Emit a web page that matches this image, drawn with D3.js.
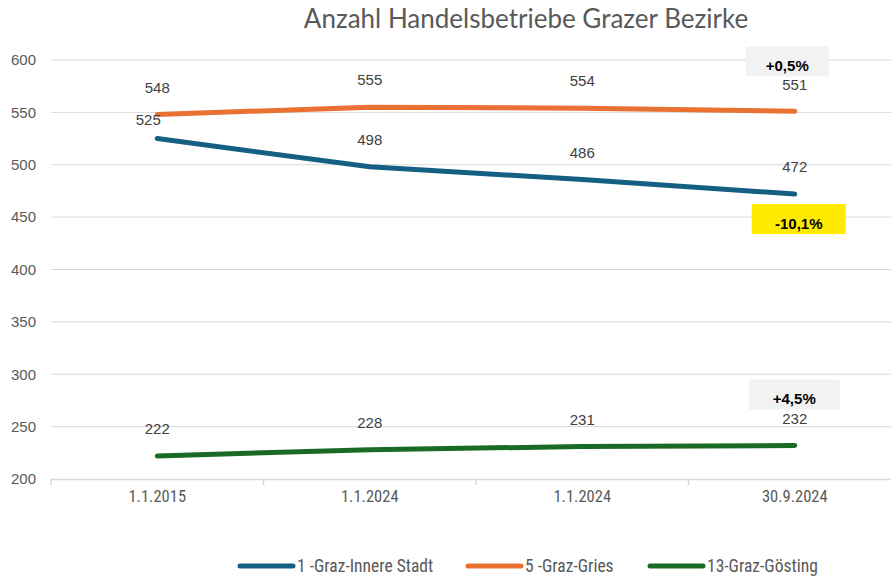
<!DOCTYPE html>
<html><head><meta charset="utf-8">
<script src="https://cdn.jsdelivr.net/npm/d3@7"></script>
<style>body{margin:0;background:#fff}svg{display:block}</style>
</head><body><svg id="c" width="891" height="576"></svg>
<script>
const categories = ["1.1.2015", "1.1.2024", "1.1.2024 ", "30.9.2024"];
const seriesNames = ["1 -Graz-Innere Stadt", "5 -Graz-Gries", "13-Graz-Gösting"];
const innereStadt = [525, 498, 486, 472];
const gries = [548, 555, 554, 551];
const goesting = [222, 228, 231, 232];
const yTicks = [200, 250, 300, 350, 400, 450, 500, 550, 600];
const changeLabels = ["-10,1%", "+0,5%", "+4,5%"];
const title = "Anzahl Handelsbetriebe Grazer Bezirke";

(function () {
const colors = ["#156082", "#E97132", "#196B24"];
const seriesData = [innereStadt, gries, goesting];

const svg = d3.select("#c");
const pLeft = 51, pRight = 901, pTop = 60, pBottom = 479;
const x = d3.scaleBand().domain(categories).range([pLeft, pRight]);
const y = d3.scaleLinear().domain([200, 600]).range([pBottom, pTop]);
const cx = c => x(c) + x.bandwidth() / 2;

svg.append("text").attr("x", 526).attr("y", 28).attr("text-anchor", "middle")
  .attr("font-family", "Lato, 'Open Sans', sans-serif").attr("font-size", 26).attr("fill", "#595959").text(title);

// grid
svg.append("g").selectAll("line").data(yTicks.filter(d => d !== 200)).join("line")
  .attr("x1", pLeft).attr("x2", 891).attr("y1", d => y(d)).attr("y2", d => y(d))
  .attr("stroke", "#d9d9d9").attr("stroke-width", 1);

// y labels
svg.append("g").selectAll("text").data(yTicks).join("text")
  .attr("x", 36).attr("y", d => y(d)).attr("dy", "0.35em").attr("text-anchor", "end")
  .attr("font-family", "'Liberation Sans', Arial, sans-serif").attr("font-size", 15).attr("fill", "#595959").text(d => d);

// x axis
const xa = svg.append("g").attr("transform", `translate(0,${pBottom})`)
  .call(d3.axisBottom(x).tickSize(0).tickFormat(d => d.trim()));
xa.select(".domain").attr("stroke", "#d9d9d9").attr("stroke-width", 1.5);
xa.selectAll("text").attr("font-family", "'Liberation Sans Narrow', 'Roboto Condensed', sans-serif")
  .attr("font-size", 16.5).attr("fill", "#595959").attr("dy", "1.2em");
svg.append("g").selectAll("line").data(categories).join("line")
  .attr("x1", d => x(d)).attr("x2", d => x(d)).attr("y1", pBottom).attr("y2", pBottom + 6)
  .attr("stroke", "#d9d9d9").attr("stroke-width", 1.5);

// lines
const line = d3.line().x((d, i) => cx(categories[i])).y(d => y(d));
seriesData.forEach((s, k) => {
  svg.append("path").datum(s).attr("d", line).attr("fill", "none")
    .attr("stroke", colors[k]).attr("stroke-width", 5).attr("stroke-linecap", "round").attr("stroke-linejoin", "round");
});

// data labels
seriesData.forEach((s, k) => {
  svg.append("g").selectAll("text").data(s).join("text")
    .attr("x", (d, i) => cx(categories[i]) + (k === 0 && i === 0 ? -9 : 0))
    .attr("y", (d, i) => y(d) - (k === 0 && i === 0 ? 19 : 27))
    .attr("text-anchor", "middle").attr("dy", "0.35em")
    .attr("font-family", "'Liberation Sans', Arial, sans-serif").attr("font-size", 15).attr("fill", "#404040")
    .text(d => d);
});

// change annotations
const last = categories[categories.length - 1];
const boxes = [
  {label: changeLabels[0], v: innereStadt[3], dy: 25, w: 94, fill: "#FFEB00", dx: 4},
  {label: changeLabels[1], v: gries[3], dy: -50, w: 83, fill: "#F2F2F2", dx: -7.5},
  {label: changeLabels[2], v: goesting[3], dy: -51, w: 91, fill: "#F2F2F2", dx: -0.5}
];
boxes.forEach(b => {
  const bx = cx(last) + b.dx, by = y(b.v) + b.dy;
  svg.append("rect").attr("x", bx - b.w / 2).attr("y", by - 15).attr("width", b.w).attr("height", 30).attr("fill", b.fill);
  svg.append("text").attr("x", bx).attr("y", by + 10).attr("text-anchor", "middle")
    .attr("font-family", "'Liberation Sans', Arial, sans-serif").attr("font-size", 15).attr("font-weight", "bold").attr("fill", "#000")
    .text(b.label);
});

// legend
const lx = [240, 468, 650];
seriesNames.forEach((n, k) => {
  svg.append("line").attr("x1", lx[k]).attr("x2", lx[k] + 53).attr("y1", 566).attr("y2", 566)
    .attr("stroke", colors[k]).attr("stroke-width", 5).attr("stroke-linecap", "round");
  svg.append("text").attr("x", lx[k] + 57).attr("y", 566).attr("dy", "0.35em")
    .attr("font-family", "'Liberation Sans Narrow', 'Roboto Condensed', sans-serif").attr("font-size", 17.5).attr("fill", "#595959").text(n);
});
})();
</script></body></html>
